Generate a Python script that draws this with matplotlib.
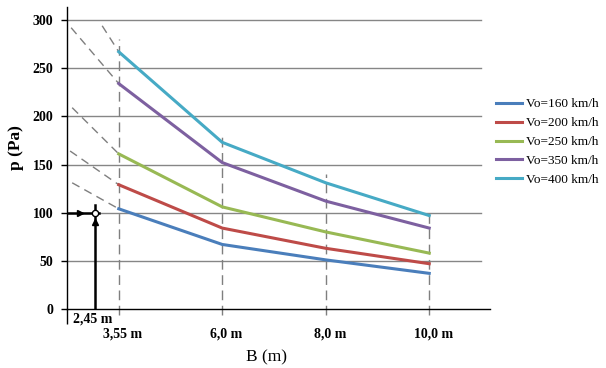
import matplotlib.pyplot as plt

plt.rcParams['font.family'] = ['Liberation Serif', 'DejaVu Serif']

# data
b_labels = ["3,55 m", "6,0 m", "8,0 m", "10,0 m"]
series = ["Vo=160 km/h", "Vo=200 km/h", "Vo=250 km/h", "Vo=350 km/h", "Vo=400 km/h"]
p160 = [104, 67, 51, 37]
p200 = [129, 84, 63, 47]
p250 = [161, 106, 80, 58]
p350 = [234, 152, 112, 84]
p400 = [267, 173, 131, 97]
colors = ["#4A7EBB", "#BE4B48", "#98B954", "#7D60A0", "#46AAC5"]

# dashed extrapolations to the left (category position, value at left end)
ext_x = [-0.45, -0.47, -0.45, -0.46, -0.16]
ext_p = [131, 164, 209, 292, 294]
# top of vertical dashed guides at each B
guide_top = [280, 181, 140, 100]
# known point B = 2,45 m
b_known = -0.23
p_known = 100

x = list(range(len(b_labels)))
all_p = [p160, p200, p250, p350, p400]

fig = plt.figure(figsize=(6.06, 3.68), dpi=100)
ax = fig.add_axes([67 / 606, 59 / 368, 423 / 606, 302 / 368])

for yv in range(50, 301, 50):
    ax.plot([-0.5, 3.5], [yv, yv], color="#868686", lw=1, zorder=1)

for xi, top in zip(x, guide_top):
    ax.plot([xi, xi], [-6, top], color="#7f7f7f", lw=1, ls=(0, (7, 4)),
            clip_on=False, zorder=2)

for ex, ep, p in zip(ext_x, ext_p, all_p):
    ax.plot([ex, 0], [ep, p[0]], color="#7f7f7f", lw=1, ls=(0, (6, 4)), zorder=2)

for p, c, name in zip(all_p, colors, series):
    ax.plot(x, p, color=c, lw=2.2, label=name, zorder=3, solid_joinstyle="round")

# arrows to the known point
ax.plot([b_known, b_known], [0, p_known + 8], color="black", lw=1.8, zorder=4)
ax.plot([-0.5, b_known + 0.04], [p_known, p_known], color="black", lw=1.8, zorder=4)
ax.plot([b_known], [p_known * 0.9], marker="^", color="black", ms=5, zorder=5)
ax.plot([-0.37], [p_known], marker=">", color="black", ms=5, zorder=5)
ax.plot([b_known], [p_known], marker="o", mfc="white", mec="black", ms=4.5, mew=1, zorder=6)

ax.set_xlim(-0.5, 3.587)
ax.set_ylim(0, 313.5)
ax.set_yticks(range(0, 301, 50))
ax.set_yticklabels([str(v) for v in range(0, 301, 50)], fontweight="bold", fontsize=10)
ax.set_xticks([-0.5])
ax.set_xticklabels([""])
ax.tick_params(axis="y", direction="out", length=4, width=1, pad=6)
ax.tick_params(axis="x", direction="out", length=11, width=1)
for s in ["top", "right"]:
    ax.spines[s].set_visible(False)
ax.spines["left"].set_linewidth(1)
ax.spines["bottom"].set_linewidth(1)
ax.spines["bottom"].set_zorder(5)

tr = ax.get_xaxis_transform()
ax.text(b_known - 0.02, -0.033, "2,45 m", transform=tr, ha="center", va="center",
        fontsize=10, fontweight="bold")
for xi, lab in zip(x, b_labels):
    ax.text(xi + 0.04, -0.083, lab, transform=tr, ha="center", va="center",
            fontsize=10, fontweight="bold")

fig.text(267 / 606, 1 - 357 / 368, "B (m)", ha="center", va="center", fontsize=12.5)
fig.text(16 / 606, 1 - 148 / 368, "p (Pa)", ha="center", va="center", fontsize=12.5,
         fontweight="bold", rotation=90)

fig.legend(loc="center left", bbox_to_anchor=(496 / 606, 1 - 142 / 368), frameon=False,
           fontsize=9.5, handlelength=2.0, handletextpad=0.3, labelspacing=0.5,
           borderpad=0, borderaxespad=0)

fig.savefig("out.png", dpi=100, facecolor="white")
